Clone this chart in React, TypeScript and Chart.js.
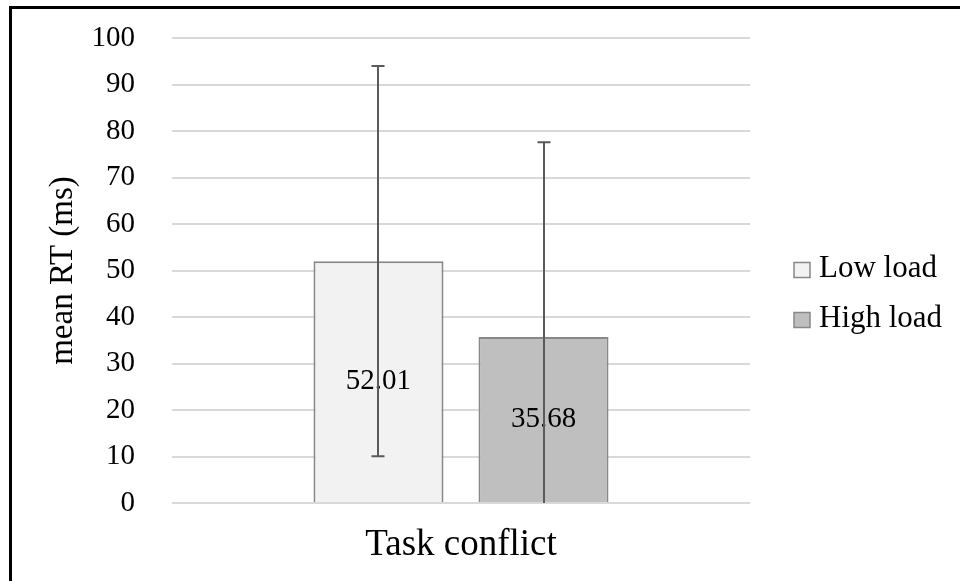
import React, { useEffect, useRef } from "react";
import { Chart, registerables } from "chart.js";

Chart.register(...registerables);

const categories = ["Task conflict"];
const seriesNames = ["Low load", "High load"];
const lowLoadMeans = [52.01];
const highLoadMeans = [35.68];
const lowLoadErrors = [41.95];
const highLoadErrors = [41.92];
const yMin = 0;
const yMax = 100;
const yStep = 10;
const yTitle = "mean RT (ms)";

const FONT = "'Liberation Serif', 'Times New Roman', serif";
const errorsByDataset = [lowLoadErrors, highLoadErrors];

const valueLabelsPlugin = {
  id: "valueLabels",
  afterDatasetsDraw(chart: any) {
    const ctx = chart.ctx;
    chart.data.datasets.forEach((ds: any, i: number) => {
      const meta = chart.getDatasetMeta(i);
      meta.data.forEach((el: any, j: number) => {
        const { x, y, base } = el.getProps(["x", "y", "base"], true);
        ctx.save();
        ctx.font = `29px ${FONT}`;
        ctx.fillStyle = "#000";
        ctx.textAlign = "center";
        ctx.textBaseline = "middle";
        ctx.fillText(Number(ds.data[j]).toFixed(2), x, (y + base) / 2);
        ctx.restore();
      });
    });
  },
};

const errorBarsPlugin = {
  id: "errorBars",
  afterDatasetsDraw(chart: any) {
    const ctx = chart.ctx;
    const yScale = chart.scales.y;
    const area = chart.chartArea;
    ctx.save();
    ctx.beginPath();
    ctx.rect(area.left, area.top - 2, area.right - area.left, area.bottom - area.top + 2);
    ctx.clip();
    ctx.strokeStyle = "#5a5a5a";
    ctx.lineWidth = 2;
    chart.data.datasets.forEach((ds: any, i: number) => {
      const meta = chart.getDatasetMeta(i);
      const errs = errorsByDataset[i];
      meta.data.forEach((el: any, j: number) => {
        const v = Number(ds.data[j]);
        const e = errs[j];
        const x = Math.round(el.x);
        const yTop = yScale.getPixelForValue(v + e);
        const yBot = yScale.getPixelForValue(v - e);
        ctx.beginPath();
        ctx.moveTo(x, yTop);
        ctx.lineTo(x, yBot);
        ctx.moveTo(x - 6.5, yTop);
        ctx.lineTo(x + 6.5, yTop);
        ctx.moveTo(x - 6.5, yBot);
        ctx.lineTo(x + 6.5, yBot);
        ctx.stroke();
      });
    });
    ctx.restore();
  },
};

const legendPlugin = {
  id: "customLegend",
  afterDraw(chart: any) {
    const ctx = chart.ctx;
    chart.data.datasets.forEach((ds: any, i: number) => {
      const cy = 270 + i * 50;
      ctx.save();
      ctx.fillStyle = ds.backgroundColor;
      ctx.fillRect(794, cy - 7.5, 16, 15);
      ctx.strokeStyle = ds.borderColor;
      ctx.lineWidth = 1.5;
      ctx.strokeRect(794, cy - 7.5, 16, 15);
      ctx.font = `31px ${FONT}`;
      ctx.fillStyle = "#000";
      ctx.textAlign = "left";
      ctx.textBaseline = "alphabetic";
      ctx.fillText(ds.label, 819, cy + 7);
      ctx.restore();
    });
  },
};

export default function App() {
  const canvasRef = useRef<HTMLCanvasElement | null>(null);

  useEffect(() => {
    if (!canvasRef.current) return;
    const chart = new Chart(canvasRef.current, {
      type: "bar",
      data: {
        labels: categories,
        datasets: [
          {
            label: seriesNames[0],
            data: lowLoadMeans,
            backgroundColor: "#f2f2f2",
            borderColor: "#888888",
            borderWidth: 2,
          },
          {
            label: seriesNames[1],
            data: highLoadMeans,
            backgroundColor: "#bfbfbf",
            borderColor: "#888888",
            borderWidth: 2,
          },
        ],
      },
      options: {
        responsive: false,
        animation: false,
        devicePixelRatio: 1,
        layout: { padding: { left: 20, top: 38, right: 210, bottom: 0 } },
        datasets: {
          bar: { categoryPercentage: 0.571, barPercentage: 0.788 },
        },
        plugins: {
          legend: { display: false },
          tooltip: { enabled: false },
        },
        scales: {
          x: {
            grid: { display: false, drawTicks: false },
            border: { display: false },
            ticks: {
              color: "#000",
              font: { family: FONT, size: 37 },
              padding: 20,
            },
            afterFit(scale: any) {
              scale.height = 78;
            },
          },
          y: {
            min: yMin,
            max: yMax,
            grid: { color: "#d9d9d9", lineWidth: 2, drawTicks: false },
            border: { display: false },
            ticks: {
              stepSize: yStep,
              color: "#000",
              font: { family: FONT, size: 29 },
              padding: 37,
            },
            title: {
              display: true,
              text: yTitle,
              color: "#000",
              font: { family: FONT, size: 33 },
              padding: { top: 24, bottom: 0 },
            },
            afterFit(scale: any) {
              scale.width = 152;
              scale.paddingTop = 0;
              scale.paddingBottom = 0;
            },
          },
        },
      },
      plugins: [valueLabelsPlugin, errorBarsPlugin, legendPlugin],
    } as any);
    return () => chart.destroy();
  }, []);

  return (
    <div
      style={{
        position: "absolute",
        left: 0,
        top: 0,
        width: 960,
        height: 581,
        overflow: "hidden",
        background: "#fff",
      }}
    >
      <canvas
        ref={canvasRef}
        width={960}
        height={581}
        style={{ position: "absolute", left: 0, top: 0, width: 960, height: 581 }}
      />
      <div
        style={{
          position: "absolute",
          left: 9,
          top: 6,
          width: 1000,
          height: 1000,
          borderTop: "3px solid #000",
          borderLeft: "3px solid #000",
          pointerEvents: "none",
        }}
      />
    </div>
  );
}
